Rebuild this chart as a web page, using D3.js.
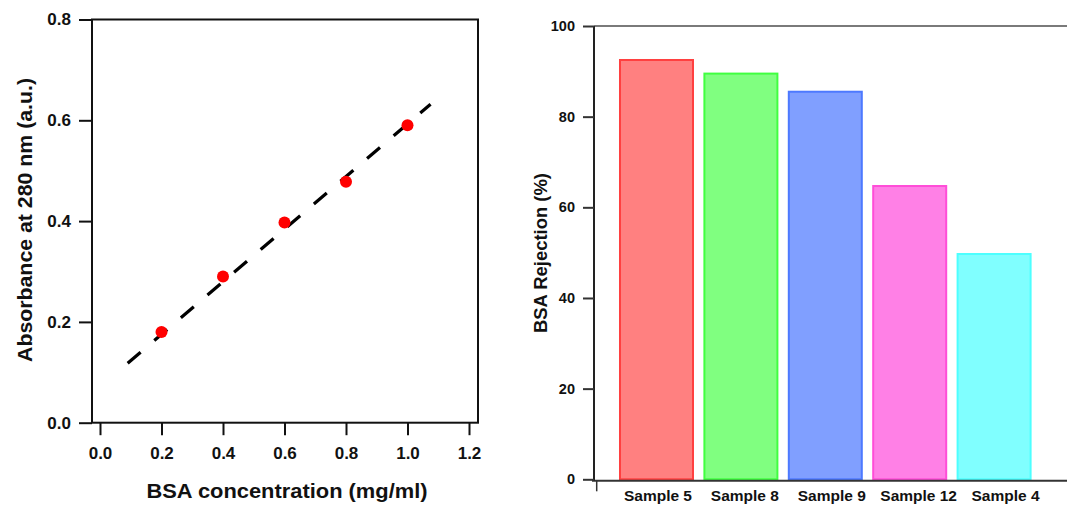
<!DOCTYPE html>
<html>
<head>
<meta charset="utf-8">
<script src="https://cdn.jsdelivr.net/npm/d3@7"></script>
<style>
  html, body { margin: 0; padding: 0; background: #fff; }
  svg { display: block; font-family: "Liberation Sans", Arial, sans-serif; }
</style>
</head>
<body>
<svg id="fig" width="1067" height="506"></svg>
<script>
// ---- Calibration curve (left panel) ----
const concentration = [0.2, 0.4, 0.6, 0.8, 1.0];          // mg/ml
const absorbance    = [0.18, 0.29, 0.397, 0.478, 0.59];   // a.u. at 280 nm
const fitX = [0.09, 1.075];                               // ends of the linear fit
const fitY = [0.118, 0.632];
const calXTicks = [0.0, 0.2, 0.4, 0.6, 0.8, 1.0, 1.2];
const calYTicks = [0.0, 0.2, 0.4, 0.6, 0.8];

// ---- Rejection per sample (right panel) ----
const samples   = ["Sample 5", "Sample 8", "Sample 9", "Sample 12", "Sample 4"];
const rejection = [92.5, 89.5, 85.5, 64.7, 49.7];         // %
const rejTicks  = [0, 20, 40, 60, 80, 100];
const fills   = ["#ff8080", "#80ff80", "#809fff", "#ff80e6", "#80ffff"];
const strokes = ["#ff4040", "#40ff40", "#4d79ff", "#ff4dd8", "#4dffff"];

const svg = d3.select("#fig");

// ================= Left panel =================
const A = { left: 92, right: 478, top: 19.5, bottom: 422.7 };
const xA = d3.scaleLinear().domain([0, 1.2]).range([100, 469]);
const yA = d3.scaleLinear().domain([0, 0.8]).range([A.bottom, A.top]);

const gA = svg.append("g");

// y axis with outward ticks
const yAxisA = gA.append("g")
  .attr("transform", `translate(${A.left},0)`)
  .call(d3.axisLeft(yA).tickValues(calYTicks).tickFormat(d3.format(".1f"))
        .tickSize(13).tickPadding(8));
yAxisA.select(".domain").remove();

// x axis with downward ticks
const xAxisA = gA.append("g")
  .attr("transform", `translate(0,${A.bottom})`)
  .call(d3.axisBottom(xA).tickValues(calXTicks).tickFormat(d3.format(".1f"))
        .tickSize(12.5).tickPadding(12));
xAxisA.select(".domain").remove();

[yAxisA, xAxisA].forEach(ax => {
  ax.selectAll(".tick line").attr("stroke", "#111").attr("stroke-width", 2);
  ax.selectAll(".tick text").attr("fill", "#111")
    .style("font-size", "17px").style("font-weight", "bold");
});

// plot frame
gA.append("rect")
  .attr("x", A.left).attr("y", A.top)
  .attr("width", A.right - A.left).attr("height", A.bottom - A.top)
  .attr("fill", "none").attr("stroke", "#111").attr("stroke-width", 2);

// linear fit (dashed)
gA.append("path")
  .datum(fitX.map((x, i) => [x, fitY[i]]))
  .attr("d", d3.line().x(d => xA(d[0])).y(d => yA(d[1])))
  .attr("fill", "none").attr("stroke", "#000")
  .attr("stroke-width", 3.2).attr("stroke-dasharray", "17,18");

// measured points
gA.selectAll("circle.pt")
  .data(concentration.map((c, i) => [c, absorbance[i]]))
  .join("circle").attr("class", "pt")
  .attr("cx", d => xA(d[0])).attr("cy", d => yA(d[1]))
  .attr("r", 6).attr("fill", "#ff0000");

// titles
gA.append("text")
  .attr("x", 287).attr("y", 497.5).attr("text-anchor", "middle")
  .attr("textLength", 281).attr("lengthAdjust", "spacingAndGlyphs")
  .style("font-size", "19.5px").style("font-weight", "bold").attr("fill", "#111")
  .text("BSA concentration (mg/ml)");

gA.append("text")
  .attr("transform", "translate(32,220) rotate(-90)").attr("text-anchor", "middle")
  .attr("textLength", 284).attr("lengthAdjust", "spacingAndGlyphs")
  .style("font-size", "19.5px").style("font-weight", "bold").attr("fill", "#111")
  .text("Absorbance at 280 nm (a.u.)");

// ================= Right panel =================
const B = { left: 594, right: 1067, top: 26, bottom: 479.3 };
const yB = d3.scaleLinear().domain([0, 100]).range([B.bottom, B.top]);
const xB = d3.scaleBand().domain(samples).range([614.3, 1036.3])
  .paddingInner(0.135).paddingOuter(0.0675);
const xLab = d3.scaleBand().domain(samples).range([614.5, 1049]);

const gB = svg.append("g");

// bars
gB.selectAll("rect.bar")
  .data(samples.map((s, i) => ({ s, v: rejection[i], i })))
  .join("rect").attr("class", "bar")
  .attr("x", d => xB(d.s)).attr("width", xB.bandwidth())
  .attr("y", d => yB(d.v)).attr("height", d => yB(0) - yB(d.v))
  .attr("fill", d => fills[d.i]).attr("stroke", d => strokes[d.i])
  .attr("stroke-width", 2);

// top border
gB.append("line")
  .attr("x1", B.left).attr("x2", B.right).attr("y1", B.top).attr("y2", B.top)
  .attr("stroke", "#7a7a7a").attr("stroke-width", 2);

// baseline
gB.append("line")
  .attr("x1", B.left - 2).attr("x2", B.right).attr("y1", B.bottom + 1.4).attr("y2", B.bottom + 1.4)
  .attr("stroke", "#333").attr("stroke-width", 2);
gB.append("line")
  .attr("x1", B.left + 2.7).attr("x2", B.left + 2.7)
  .attr("y1", B.bottom + 1.4).attr("y2", B.bottom + 12)
  .attr("stroke", "#333").attr("stroke-width", 1.5);

// y axis
const yAxisB = gB.append("g")
  .attr("transform", `translate(${B.left},0)`)
  .call(d3.axisLeft(yB).tickValues(rejTicks).tickSize(11).tickPadding(8));
yAxisB.select(".domain").attr("stroke", "#222").attr("stroke-width", 2)
  .attr("d", `M0,${B.top}V${B.bottom + 1.4}`);
yAxisB.selectAll(".tick line").attr("stroke", "#333").attr("stroke-width", 2);
yAxisB.selectAll(".tick text").attr("fill", "#111")
  .style("font-size", "14.5px").style("font-weight", "bold");

// category labels
const xAxisB = gB.append("g")
  .attr("transform", `translate(0,${B.bottom + 1.4})`)
  .call(d3.axisBottom(xLab).tickSize(0).tickPadding(9));
xAxisB.select(".domain").remove();
xAxisB.selectAll(".tick text").attr("fill", "#111")
  .style("font-size", "15.5px").style("font-weight", "bold");

// y title
gB.append("text")
  .attr("transform", "translate(546.5,253) rotate(-90)").attr("text-anchor", "middle")
  .attr("textLength", 160).attr("lengthAdjust", "spacingAndGlyphs")
  .style("font-size", "18px").style("font-weight", "bold").attr("fill", "#111")
  .text("BSA Rejection (%)");
</script>
</body>
</html>
